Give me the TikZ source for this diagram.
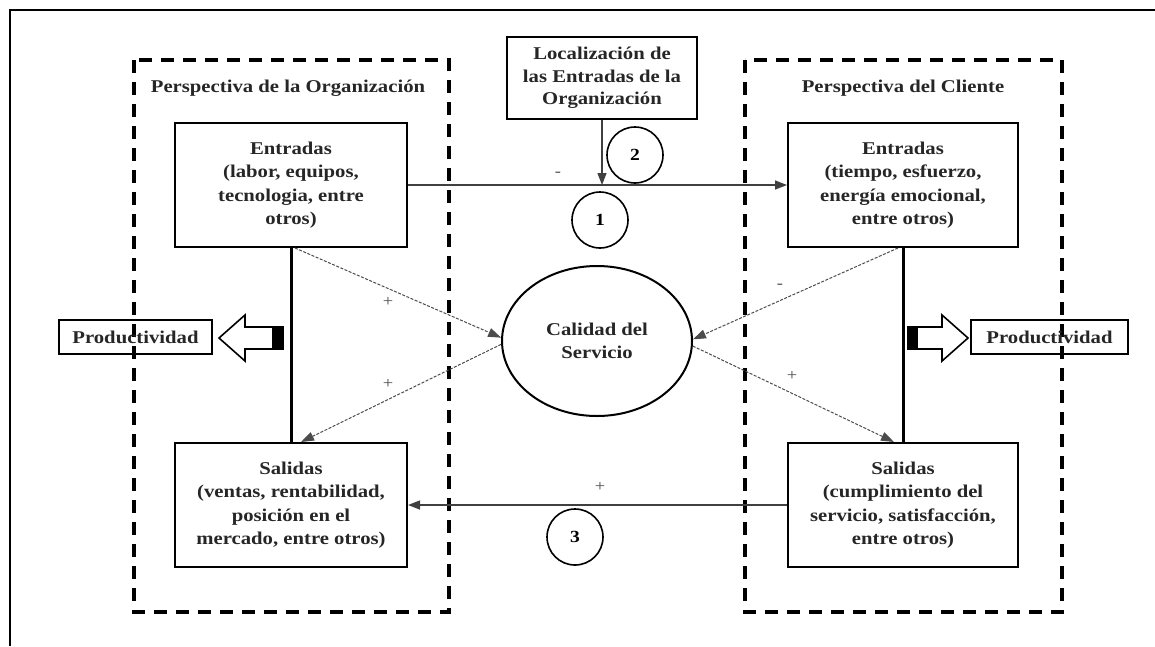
\documentclass[tikz,border=0pt]{standalone}
\usepackage{fontspec}
\setmainfont{Liberation Serif}[FakeStretch=1.15]
\usetikzlibrary{arrows.meta,shapes.geometric}

\begin{document}
\begin{tikzpicture}[x=1pt,y=-1pt,
  txt/.style={font=\bfseries\fontsize{18}{23.5}\selectfont, text=black!85},
  box/.style={txt, draw, line width=2pt, minimum width=232pt, minimum height=124pt,
    align=center, inner sep=2pt},
  prodbox/.style={txt, draw, line width=2pt, minimum width=153pt, minimum height=34pt, inner sep=0pt},
  num/.style={circle, draw, line width=1.6pt, minimum size=56pt, inner sep=0pt,
    font=\bfseries\fontsize{17}{19}\selectfont},
  persp/.style={draw, line width=3.2pt, dash pattern=on 13pt off 9pt},
  flow/.style={line width=1.4pt, draw=black!75, -{Triangle[length=12pt,width=9pt]}},
  effect/.style={line width=1pt, draw=black!70, dash pattern=on 3pt off 1.5pt,
    -{Triangle[length=13pt,width=9pt]}},
  link/.style={line width=3pt},
  sign/.style={font=\fontsize{16}{18}\selectfont, text=black!70},
  blockarrow/.style={draw, line width=1.6pt, fill=white, line join=miter}
]
\useasboundingbox (0,0) rectangle (1155,646);

% frame
\draw[line width=2pt] (10,646) -- (10,10) -- (1155,10);

% perspective regions
\draw[persp] (134,60) rectangle (449,612);
\draw[persp] (745,60) rectangle (1062,612);
\node[txt] (tL) at (288,88) {Perspectiva de la Organización};
\node[txt] (tR) at (903,88) {Perspectiva del Cliente};

% main boxes
\node[box] (eL) at (291,185) {Entradas\\(labor, equipos,\\tecnologia, entre\\otros)};
\node[box, minimum width=230pt] (eR) at (903,185) {Entradas\\(tiempo, esfuerzo,\\energía emocional,\\entre otros)};
\node[box] (sL) at (291,505) {Salidas\\(ventas, rentabilidad,\\posición en el\\mercado, entre otros)};
\node[box, minimum width=230pt] (sR) at (903,505) {Salidas\\(cumplimiento del\\servicio, satisfacción,\\entre otros)};

\node[box, minimum width=190pt, minimum height=82pt, font=\bfseries\fontsize{18}{22.5}\selectfont] (loc) at (602,78)
  {Localización de\\las Entradas de la\\Organización};

\node[ellipse, draw, line width=2pt, minimum width=190pt, minimum height=150pt,
  txt, align=center] (cal) at (597,341) {Calidad del\\Servicio};

\node[num] (c1) at (600,220) {1};
\node[num] (c2) at (635,155) {2};
\node[num] (c3) at (575,537) {3};

\node[prodbox] (pL) at (135.5,337) {Productividad};
\node[prodbox, minimum width=157pt] (pR) at (1049.5,337) {Productividad};

% productivity links
\draw[link] (eL.south) -- (sL.north);
\draw[link] (eR.south) -- (sR.north);

% block arrows
\draw[blockarrow] (219,338) -- (245,315) -- (245,327) -- (283,327) -- (283,349) -- (245,349) -- (245,361) -- cycle;
\fill (272,327) rectangle (283,349);
\draw[blockarrow] (968,338) -- (942,315) -- (942,327) -- (908,327) -- (908,349) -- (942,349) -- (942,361) -- cycle;
\fill (908,327) rectangle (918,349);

% flows between perspectives
\draw[flow] (eL.east) -- (eR.west);
\coordinate (hit) at (loc.south |- eL.east);
\draw[flow] (loc.south) -- (hit);
\draw[flow] (sR.west) -- (sL.east);

% effects on service quality
\draw[effect] ([xshift=4pt]eL.south) -- (cal.178);
\draw[effect] (cal.182) -- ([xshift=10pt]sL.north);
\draw[effect] ([xshift=-5pt]eR.south) -- (cal.1);
\draw[effect] (cal.-3) -- ([xshift=-9pt]sR.north);

% signs
\node[sign] (s0) at (558,174) {-};
\node[sign] (s1) at (388,302) {+};
\node[sign] (s2) at (388,384) {+};
\node[sign] (s3) at (780,286) {-};
\node[sign] (s4) at (792,376) {+};
\node[sign] (s5) at (600,487) {+};
\end{tikzpicture}
\end{document}
